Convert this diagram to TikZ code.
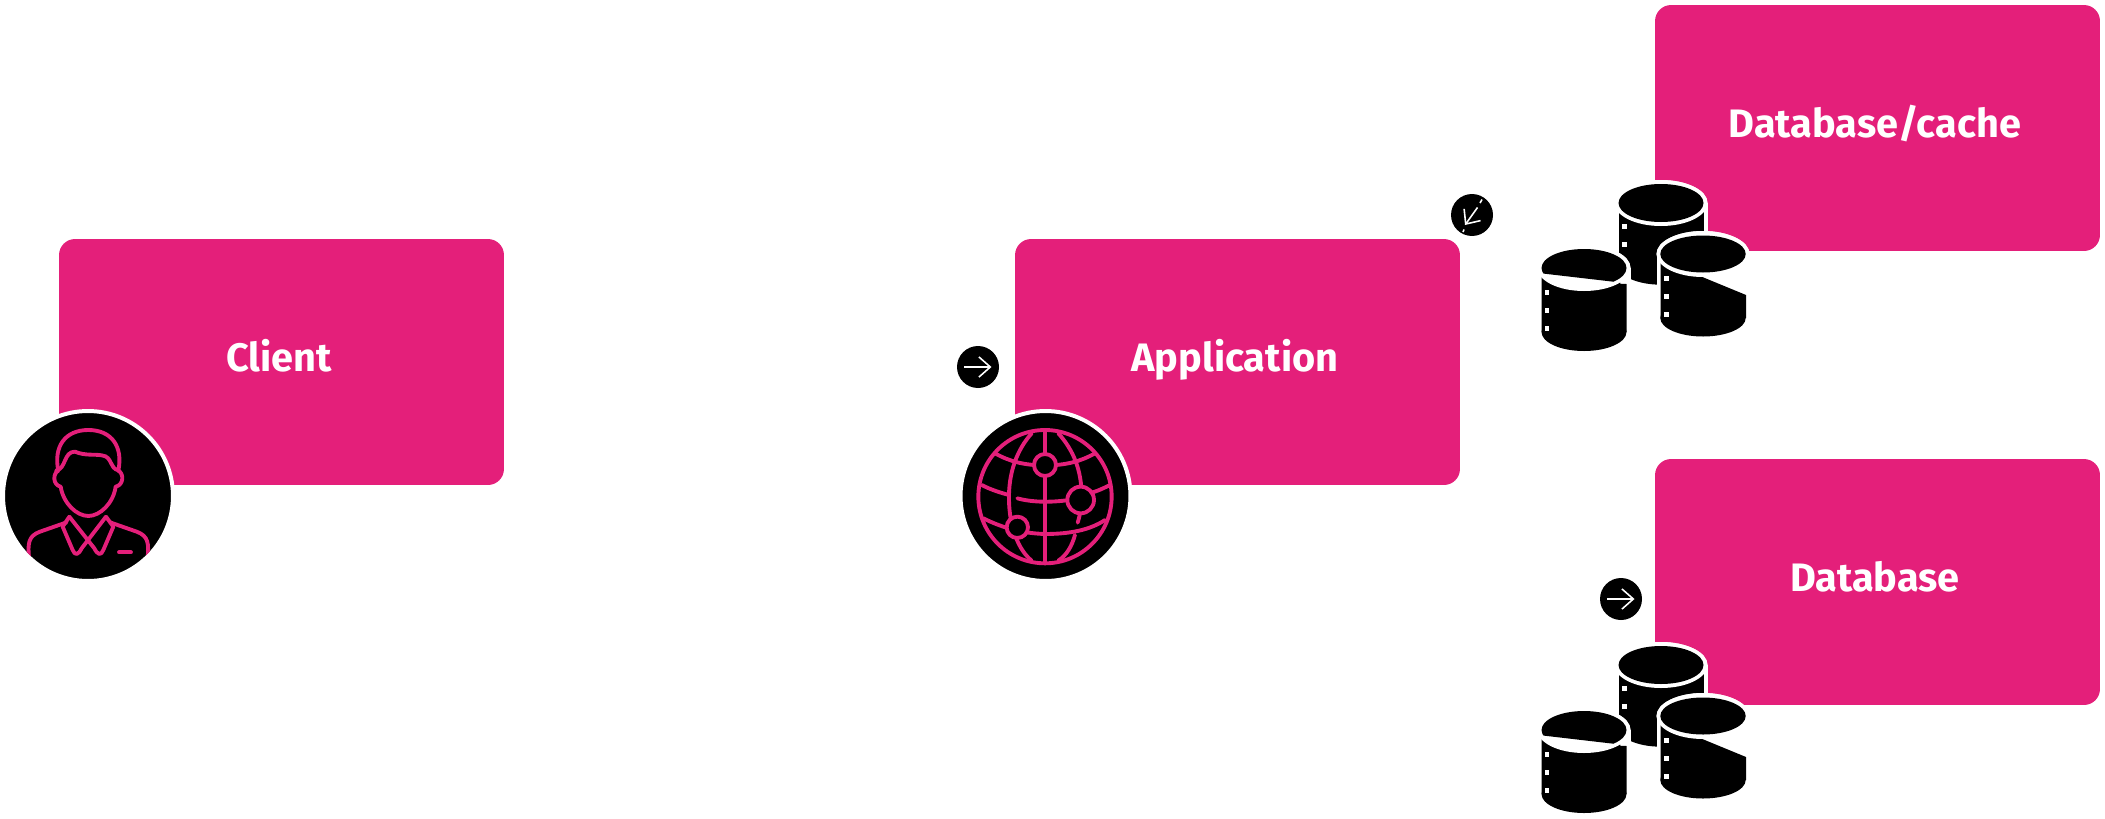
\documentclass[tikz,border=0pt]{standalone}
\usepackage{fontspec}
\setmainfont{Fira Sans}
\usetikzlibrary{arrows.meta}
\definecolor{magentabox}{HTML}{E41F7A}
\tikzset{
  tile/.style={fill=magentabox, text=white, rounded corners=0.32cm, inner sep=0pt,
    minimum width=8.9cm, minimum height=4.92cm, text height=11.3pt, text depth=0pt,
    font=\fontsize{22.6}{28}\selectfont\bfseries, execute at end node=\hspace{3pt}},
  avatar/.style={circle, fill=black, draw=white, line width=2.27pt, inner sep=0pt, minimum size=3.4cm},
  badge/.style={circle, fill=black, inner sep=0pt, minimum size=0.84cm},
  iconline/.style={draw=magentabox, line width=2.2pt, line cap=round, line join=round},
  hub/.style={iconline, fill=black},
  pointer/.style={white, line width=0.9pt},
  barb/.style={-{Straight Barb[length=6.5pt,width=11.5pt,line width=0.9pt]}}
}
\begin{document}
\begin{tikzpicture}[x=0.02cm, y=-0.02cm]
  \useasboundingbox (0,0) rectangle (2105,818);
  \node[tile] (client) at (281.5,362) {Client};
  \node[tile] (app) at (1237.5,362) {Application};
  \node[tile] (cache) at (1877.5,128) {Database/cache};
  \node[tile] (db) at (1877.5,582) {Database};
  % arrows
  \node[badge] (inapp) at (978,367) {};
  \draw[pointer, barb] ([xshift=-0.28cm]inapp.center) -- ([xshift=0.27cm]inapp.center);
  \node[badge] (indb) at (1621,599) {};
  \draw[pointer, barb] ([xshift=-0.28cm]indb.center) -- ([xshift=0.27cm]indb.center);
  \node[badge] (incache) at (1472,215) {};
  \coordinate (tipcache) at (1465,225);
  \draw[pointer, barb] (1477.5,207.5) -- (tipcache);
  \draw[pointer] (1482,199.5) -- (1480,203);
  \draw[pointer] (1464,229.5) -- (1463,232);
  % client
  \node[avatar] (person) at (88,496) {};
  \begin{scope}[shift={(0,380)}, x=0.00667cm, y=-0.00667cm]
    \clip (264,348) circle [radius=249];
    \draw[iconline] (175,272) .. controls (160,200) and (195,150) .. (265,150)
      .. controls (335,150) and (370,200) .. (355,272);
    \draw[iconline] (168,272) .. controls (200,265) and (190,215) .. (225,215)
      .. controls (255,228) and (285,222) .. (305,226) .. controls (340,230) and (325,265) .. (358,272);
    \draw[iconline] (175,272) .. controls (158,280) and (158,315) .. (182,320)
      .. controls (190,370) and (230,408) .. (265,408)
      .. controls (300,408) and (340,370) .. (347,320)
      .. controls (372,315) and (372,280) .. (355,272);
    \draw[iconline] (208,410) -- (188,440) -- (218,510) .. controls (225,528) and (235,525) .. (245,505) -- (318,410);
    \draw[iconline] (318,410) -- (340,440) -- (310,510) .. controls (303,528) and (293,525) .. (283,505) -- (208,410);
    \draw[iconline] (200,427) -- (120,455) .. controls (85,468) and (82,490) .. (88,540);
    \draw[iconline] (330,427) -- (410,455) .. controls (445,468) and (448,490) .. (442,540);
    \draw[iconline] (357,517) -- (393,517);
  \end{scope}
  % application
  \node[avatar] (globe) at (1045.5,496) {};
  \begin{scope}[shift={(940,330)}, x=0.00667cm, y=-0.00667cm]
    \draw[iconline] (315,500) circle [radius=200];
    \draw[iconline] (315,300) -- (315,700);
    \draw[iconline] (275,310) .. controls (230,360) and (205,430) .. (207,510)
      .. controls (208,590) and (235,660) .. (275,692);
    \draw[iconline] (355,310) .. controls (400,360) and (425,420) .. (425,500)
      .. controls (425,530) and (420,555) .. (413,578);
    \draw[iconline] (405,615) .. controls (395,650) and (380,675) .. (355,692);
    \draw[iconline] (165,370) .. controls (210,395) and (250,405) .. (315,407)
      .. controls (380,405) and (420,395) .. (465,370);
    \draw[iconline] (125,465) .. controls (150,478) and (180,488) .. (207,495);
    \draw[iconline] (232,505) .. controls (280,518) and (340,518) .. (400,508);
    \draw[iconline] (445,490) .. controls (470,485) and (490,475) .. (510,465);
    \draw[iconline] (130,565) .. controls (180,590) and (240,610) .. (315,612)
      .. controls (390,612) and (450,600) .. (495,570);
    \draw[hub] (315,405) circle [radius=33];
    \draw[hub] (422,510) circle [radius=40];
    \draw[hub] (232,592) circle [radius=32];
  \end{scope}
  % databases
  \foreach \dy in {0,462} {
    \begin{scope}[shift={(0,\dy)}]
      % back
      \fill[white] (1661,203) ellipse [x radius=46.5, y radius=23];
      \fill[white] (1614.5,203) rectangle (1707.5,255);
      \fill[black] (1661,265.7) ellipse [x radius=42.5, y radius=19];
      \fill[black] (1618.5,203) rectangle (1703.5,265.7);
      \fill[white] (1661,203) ellipse [x radius=46.5, y radius=23];
      \fill[black] (1661,203) ellipse [x radius=42.5, y radius=19];
      \fill[white] (1622,224) rectangle +(4.7,5.3);
      \fill[white] (1622,242) rectangle +(4.7,5.3);
      % left
      \fill[white] (1584,268) ellipse [x radius=46.5, y radius=23];
      \fill[white] (1537.5,268) rectangle (1630.5,300);
      \fill[white] (1620,284) rectangle (1630.5,340);
      \fill[black] (1584,332) ellipse [x radius=42.5, y radius=19];
      \fill[black] (1541.5,268) -- (1620,268) -- (1620,283.7) -- (1626.5,284) -- (1626.5,332) -- (1541.5,332) -- cycle;
      \fill[white] (1584,268) ellipse [x radius=46.5, y radius=23];
      \begin{scope}
        \clip (1535,240) -- (1640,240) -- (1640,300) -- (1613.3,281.7) -- (1541,273.3) -- (1535,272.6) -- cycle;
        \fill[black] (1584,268) ellipse [x radius=42.5, y radius=19];
      \end{scope}
      \fill[white] (1544.7,290) rectangle +(4.4,5.3);
      \fill[white] (1544.7,308) rectangle +(4.4,5.3);
      \fill[white] (1544.7,326) rectangle +(4.4,5.3);
      % right
      \fill[white] (1703,254) ellipse [x radius=46.5, y radius=23];
      \fill[white] (1656.5,254) rectangle (1703,300);
      \fill[black] (1703,318) ellipse [x radius=42.7, y radius=18.5];
      \fill[black] (1660.5,254) -- (1703,254) -- (1703,277.3) -- (1746,295) -- (1746,318) -- (1660.5,318) -- cycle;
      \fill[white] (1703,254) ellipse [x radius=46.5, y radius=23];
      \fill[black] (1703,254) ellipse [x radius=42.7, y radius=18.5];
      \fill[white] (1664,275.5) rectangle +(4.7,5.3);
      \fill[white] (1664,293.7) rectangle +(4.7,5.3);
      \fill[white] (1664,311.7) rectangle +(4.7,5.3);
    \end{scope}
  }
\end{tikzpicture}
\end{document}
